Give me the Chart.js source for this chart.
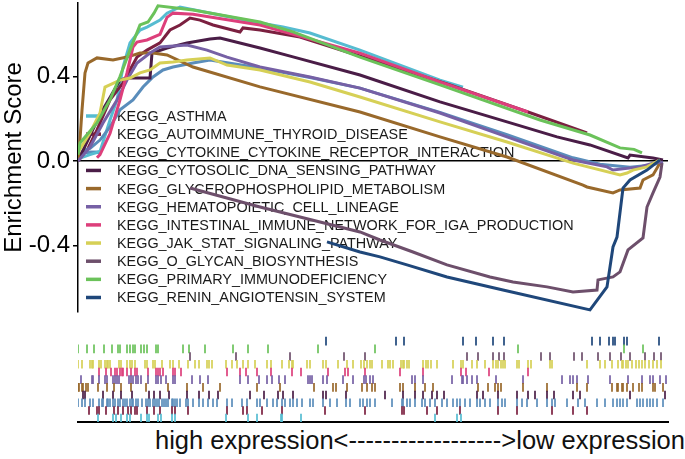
<!DOCTYPE html>
<html>
<head>
<meta charset="utf-8">
<script src="https://cdn.jsdelivr.net/npm/chart.js@4/dist/chart.umd.min.js"></script>
<style>
  html, body { margin: 0; padding: 0; background: #fff; }
  #wrap { position: relative; width: 685px; height: 459px; overflow: hidden; }
  #main { position: absolute; left: 0; top: 0; }
  #rug { position: absolute; left: 0; top: 330px; }
  #xlab { position: absolute; left: 155px; top: 427px; font: 25.5px "Liberation Sans", Arial, sans-serif;
          line-height: 26px; white-space: nowrap; color: #111; }
</style>
</head>
<body>
<div id="wrap">
  <canvas id="main" width="685" height="315"></canvas>
  <canvas id="rug" width="685" height="95"></canvas>
  <div id="xlab">high expression&lt;------------------&gt;low expression</div>
</div>
<script>
// gene sets, in legend order
const setNames = [
  'KEGG_ASTHMA',
  'KEGG_AUTOIMMUNE_THYROID_DISEASE',
  'KEGG_CYTOKINE_CYTOKINE_RECEPTOR_INTERACTION',
  'KEGG_CYTOSOLIC_DNA_SENSING_PATHWAY',
  'KEGG_GLYCEROPHOSPHOLIPID_METABOLISM',
  'KEGG_HEMATOPOIETIC_CELL_LINEAGE',
  'KEGG_INTESTINAL_IMMUNE_NETWORK_FOR_IGA_PRODUCTION',
  'KEGG_JAK_STAT_SIGNALING_PATHWAY',
  'KEGG_O_GLYCAN_BIOSYNTHESIS',
  'KEGG_PRIMARY_IMMUNODEFICIENCY',
  'KEGG_RENIN_ANGIOTENSIN_SYSTEM'
];
const setColors = ['#56bcd1', '#7b2040', '#5a8dbb', '#4a1d47', '#99692b', '#7660a5',
                   '#dd3f7b', '#d6d056', '#6d4f6b', '#6bc25a', '#1f477a'];

const yTicks = [-0.4, 0.0, 0.4];

// running enrichment score: rank position (0-590) and score
const asthmaX = [0, 12, 22, 32, 39, 45, 52, 62, 69, 82, 89, 102, 182, 205, 232, 282, 362, 385];
const asthmaY = [0.01, 0.03, 0.045, 0.194, 0.289, 0.445, 0.559, 0.62, 0.634, 0.667, 0.70, 0.729, 0.653, 0.634, 0.606, 0.525, 0.383, 0.35];

const autoimmuneX = [0, 10, 19, 32, 45, 59, 69, 82, 92, 102, 112, 122, 135, 162, 165, 182, 222, 300, 372, 450, 509];
const autoimmuneY = [0, 0.06, 0.147, 0.289, 0.37, 0.492, 0.525, 0.559, 0.62, 0.644, 0.677, 0.667, 0.644, 0.611, 0.63, 0.62, 0.587, 0.47, 0.36, 0.232, 0.133];

const cytokineX = [0, 5, 12, 22, 32, 42, 55, 65, 75, 85, 95, 115, 132, 182, 232, 282, 362, 429, 495, 522, 552, 572, 585];
const cytokineY = [0, 0.05, 0.06, 0.099, 0.161, 0.242, 0.289, 0.35, 0.398, 0.431, 0.445, 0.464, 0.478, 0.44, 0.395, 0.345, 0.23, 0.125, 0.015, -0.015, -0.03, -0.02, -0.005];

const cytosolicX = [0, 12, 22, 32, 42, 49, 72, 74, 89, 109, 132, 142, 182, 215, 282, 362, 429, 479, 512, 550, 552, 575, 585];
const cytosolicY = [0, 0.12, 0.22, 0.3, 0.383, 0.393, 0.393, 0.511, 0.535, 0.559, 0.578, 0.582, 0.535, 0.493, 0.407, 0.28, 0.185, 0.114, 0.076, 0.014, 0.028, 0.014, 0.005];

const glyceroX = [0, 2, 4, 7, 10, 19, 35, 49, 62, 75, 89, 115, 182, 282, 362, 429, 505, 509, 535, 542, 562, 565, 575, 582];
const glyceroY = [0, 0.1, 0.241, 0.417, 0.464, 0.488, 0.478, 0.492, 0.511, 0.511, 0.502, 0.445, 0.351, 0.232, 0.114, 0.019, -0.114, -0.123, -0.151, -0.137, -0.128, -0.09, -0.066, -0.01];

const hematoX = [0, 12, 25, 39, 49, 59, 72, 82, 109, 129, 149, 182, 232, 282, 362, 429, 495, 529, 535, 562, 579, 585];
const hematoY = [0, 0.066, 0.18, 0.289, 0.383, 0.464, 0.511, 0.54, 0.549, 0.525, 0.492, 0.445, 0.398, 0.345, 0.227, 0.114, 0.005, -0.028, -0.043, -0.028, -0.005, -0.01];

const intestinalX = [19, 22, 32, 42, 49, 55, 59, 69, 82, 89, 95, 115, 182, 282, 362, 450];
const intestinalY = [0.015, 0.03, 0.13, 0.289, 0.417, 0.54, 0.563, 0.573, 0.6, 0.68, 0.70, 0.695, 0.644, 0.511, 0.374, 0.232];

const jakX = [0, 12, 22, 27, 42, 52, 62, 72, 82, 95, 109, 132, 149, 182, 232, 282, 362, 429, 495, 542, 549, 555, 569, 582];
const jakY = [0.04, 0.133, 0.227, 0.35, 0.383, 0.393, 0.417, 0.431, 0.464, 0.469, 0.478, 0.488, 0.454, 0.431, 0.374, 0.303, 0.185, 0.09, -0.01, -0.066, -0.057, -0.043, -0.028, 0.005];

const oglycanX = [112, 182, 282, 302, 335, 369, 412, 435, 469, 495, 519, 520, 535, 542, 550, 565, 569, 575, 582, 584];
const oglycanY = [-0.128, -0.218, -0.336, -0.374, -0.431, -0.492, -0.549, -0.573, -0.596, -0.62, -0.611, -0.563, -0.549, -0.525, -0.421, -0.364, -0.218, -0.151, -0.076, -0.01];

const primaryX = [0, 2, 19, 32, 42, 52, 62, 70, 76, 80, 115, 182, 215, 282, 362, 462, 512, 542, 556, 564];
const primaryY = [0.03, 0.085, 0.18, 0.29, 0.4, 0.525, 0.644, 0.658, 0.7, 0.735, 0.715, 0.658, 0.611, 0.492, 0.36, 0.194, 0.123, 0.062, 0.055, 0.038];

const reninX = [249, 282, 302, 329, 369, 425, 512, 529, 535, 539, 545, 552, 569, 582];
const reninY = [-0.383, -0.431, -0.454, -0.492, -0.549, -0.611, -0.705, -0.596, -0.407, -0.36, -0.128, -0.09, -0.043, 0.005];

// gene hit positions for the rug below
const asthmaHits = [20, 35, 38, 43, 49, 52, 63, 69, 71, 80, 83, 94, 97, 148, 170, 179, 203, 204, 223, 357, 379, 383];
const autoimmuneHits = [11, 19, 21, 28, 36, 40, 45, 50, 53, 57, 59, 69, 76, 82, 94, 97, 110, 149, 165, 169, 184, 204, 247, 287,
  324, 326, 349, 359, 382, 420, 439, 474, 495, 509];
const cytokineHits = [0, 4, 7, 12, 15, 21, 24, 25, 29, 30, 32, 35, 37, 40, 42, 45, 47, 49, 52, 54, 55, 58, 60, 64, 68, 70, 72, 75,
  77, 79, 81, 84, 86, 88, 90, 94, 95, 97, 99, 102, 108, 110, 115, 121, 125, 130, 135, 139, 149, 154, 164, 169, 179, 182, 189,
  195, 199, 204, 207, 212, 215, 219, 224, 232, 235, 245, 252, 259, 268, 272, 282, 285, 289, 292, 297, 314, 324, 325, 329, 332,
  337, 344, 347, 352, 357, 364, 369, 375, 379, 382, 387, 392, 399, 402, 407, 412, 420, 424, 427, 439, 444, 449, 459, 469, 474,
  477, 489, 500, 507, 519, 527, 535, 539, 542, 545, 549, 559, 562, 565, 569, 572, 575, 579, 585];
const cytosolicHits = [5, 7, 25, 35, 43, 54, 71, 76, 82, 91, 109, 121, 131, 140, 172, 186, 200, 205, 215, 245, 248, 268,
  307, 325, 337, 345, 354, 359, 366, 399, 405, 420, 439, 450, 457, 469, 476, 495, 502, 552, 587];
const glyceroHits = [0, 1, 4, 5, 8, 10, 20, 29, 36, 43, 53, 68, 90, 109, 125, 142, 179, 202, 236, 255, 258, 269, 284, 289,
  294, 297, 322, 325, 337, 347, 355, 400, 410, 417, 420, 423, 445, 469, 499, 509, 534, 539, 540, 544, 545, 549, 555, 561,
  564, 575, 577, 585];
const hematoHits = [3, 14, 15, 21, 27, 29, 35, 37, 39, 41, 51, 53, 55, 58, 60, 63, 70, 78, 80, 83, 88, 95, 97, 114, 122, 130,
  162, 170, 181, 189, 194, 201, 207, 230, 232, 234, 245, 249, 265, 275, 286, 288, 292, 295, 334, 337, 345, 374, 384, 385,
  389, 394, 399, 418, 445, 484, 492, 495, 499, 510, 532, 550, 564, 572, 575, 582, 588];
const intestinalHits = [21, 28, 33, 37, 39, 42, 44, 45, 49, 53, 57, 59, 70, 78, 80, 82, 85, 95, 97, 103, 149, 162, 168, 179,
  193, 214, 223, 250, 267, 270, 287, 322, 345, 383, 388, 411, 450];
const jakHits = [0, 4, 12, 14, 15, 21, 23, 27, 29, 30, 32, 41, 43, 49, 52, 54, 57, 67, 69, 75, 77, 84, 92, 95, 101, 110, 117,
  121, 129, 131, 134, 148, 154, 159, 165, 170, 177, 189, 193, 204, 211, 214, 215, 229, 232, 245, 248, 260, 269, 275, 283,
  286, 289, 292, 294, 304, 310, 312, 315, 323, 325, 326, 329, 331, 345, 348, 350, 353, 359, 375, 383, 385, 394, 399, 407,
  415, 418, 420, 423, 425, 427, 439, 441, 450, 453, 472, 474, 509, 522, 527, 534, 540, 544, 545, 548, 550, 554, 558, 561,
  564, 567, 571, 575, 579, 583];
const oglycanHits = [112, 158, 212, 266, 287, 389, 400, 415, 421, 426, 463, 472, 496, 504, 520, 532, 543, 552, 567, 576, 583];
const primaryHits = [0, 9, 16, 26, 34, 40, 42, 49, 52, 55, 57, 63, 66, 69, 78, 80, 105, 111, 127, 155, 170, 190, 240, 297,
  440, 546, 565];
const reninHits = [248, 318, 326, 385, 398, 415, 426, 514, 522, 531, 535, 537, 546, 549, 581];

const curveX = [asthmaX, autoimmuneX, cytokineX, cytosolicX, glyceroX, hematoX, intestinalX, jakX, oglycanX, primaryX, reninX];
const curveY = [asthmaY, autoimmuneY, cytokineY, cytosolicY, glyceroY, hematoY, intestinalY, jakY, oglycanY, primaryY, reninY];
const hitLists = [asthmaHits, autoimmuneHits, cytokineHits, cytosolicHits, glyceroHits, hematoHits, intestinalHits,
                  jakHits, oglycanHits, primaryHits, reninHits];

const FONT = 'Liberation Sans';

// legend sits inside the plot, under the curves
const insideLegend = {
  id: 'insideLegend',
  beforeDatasetsDraw(chart) {
    const ctx = chart.ctx;
    ctx.save();
    ctx.font = '14.4px "' + FONT + '"';
    ctx.textBaseline = 'middle';
    setNames.forEach((name, i) => {
      const y = 116 + i * 18.15;
      ctx.strokeStyle = setColors[i];
      ctx.lineWidth = 3.5;
      ctx.beginPath();
      ctx.moveTo(86, y);
      ctx.lineTo(101, y);
      ctx.stroke();
      ctx.fillStyle = '#1a1a1a';
      ctx.fillText(name, 117, y + 1);
    });
    ctx.restore();
  }
};

new Chart(document.getElementById('main'), {
  type: 'line',
  data: {
    datasets: setNames.map((name, i) => ({
      label: name,
      data: curveX[i].map((x, j) => ({ x: x, y: curveY[i][j] })),
      borderColor: setColors[i],
      borderWidth: 3,
      pointRadius: 0,
      tension: 0,
      fill: false,
      order: 10 - i
    }))
  },
  options: {
    responsive: false,
    animation: false,
    layout: { autoPadding: false, padding: { top: 3, right: 17, bottom: 3, left: 0 } },
    plugins: { legend: { display: false }, tooltip: { enabled: false } },
    scales: {
      x: { type: 'linear', min: 0, max: 590, display: false },
      y: {
        min: -0.715,
        max: 0.748,
        z: 1,
        afterBuildTicks: s => { s.ticks = yTicks.map(v => ({ value: v })); },
        afterFit: s => { s.width = 78; s.paddingTop = 0; s.paddingBottom = 0; },
        border: { display: true, color: '#000', width: 1.5 },
        grid: {
          color: c => (c.tick && Math.abs(c.tick.value) < 1e-9) ? '#000' : 'rgba(0,0,0,0)',
          lineWidth: 1.5,
          tickColor: '#000',
          tickLength: 5
        },
        ticks: {
          color: '#000',
          padding: 3,
          font: { family: FONT, size: 24 },
          callback: v => v.toFixed(1)
        },
        title: {
          display: true,
          text: 'Enrichment Score',
          color: '#000',
          padding: 0,
          font: { family: FONT, size: 24 }
        }
      }
    }
  },
  plugins: [insideLegend]
});

// rug: one row per gene set, first set at the bottom
new Chart(document.getElementById('rug'), {
  type: 'scatter',
  data: {
    datasets: setNames.map((name, i) => ({
      label: name,
      data: hitLists[i].map(x => ({ x: x, y: i + 1 })),
      pointStyle: 'line',
      rotation: 90,
      pointRadius: 4.3,
      borderWidth: 2,
      borderColor: setColors[i] + 'd9',
      backgroundColor: setColors[i] + 'd9'
    }))
  },
  options: {
    responsive: false,
    animation: false,
    layout: { autoPadding: false, padding: { top: 3, right: 17, bottom: 3, left: 78 } },
    plugins: { legend: { display: false }, tooltip: { enabled: false } },
    scales: {
      x: {
        type: 'linear', min: 0, max: 590,
        border: { display: true, color: '#000', width: 2 },
        grid: { display: false, drawTicks: false },
        ticks: { display: false },
        afterFit: s => { s.height = 0; s.paddingLeft = 0; s.paddingRight = 0; }
      },
      y: { display: false, min: 0.5, max: 12.06 }
    }
  }
});
</script>
</body>
</html>
